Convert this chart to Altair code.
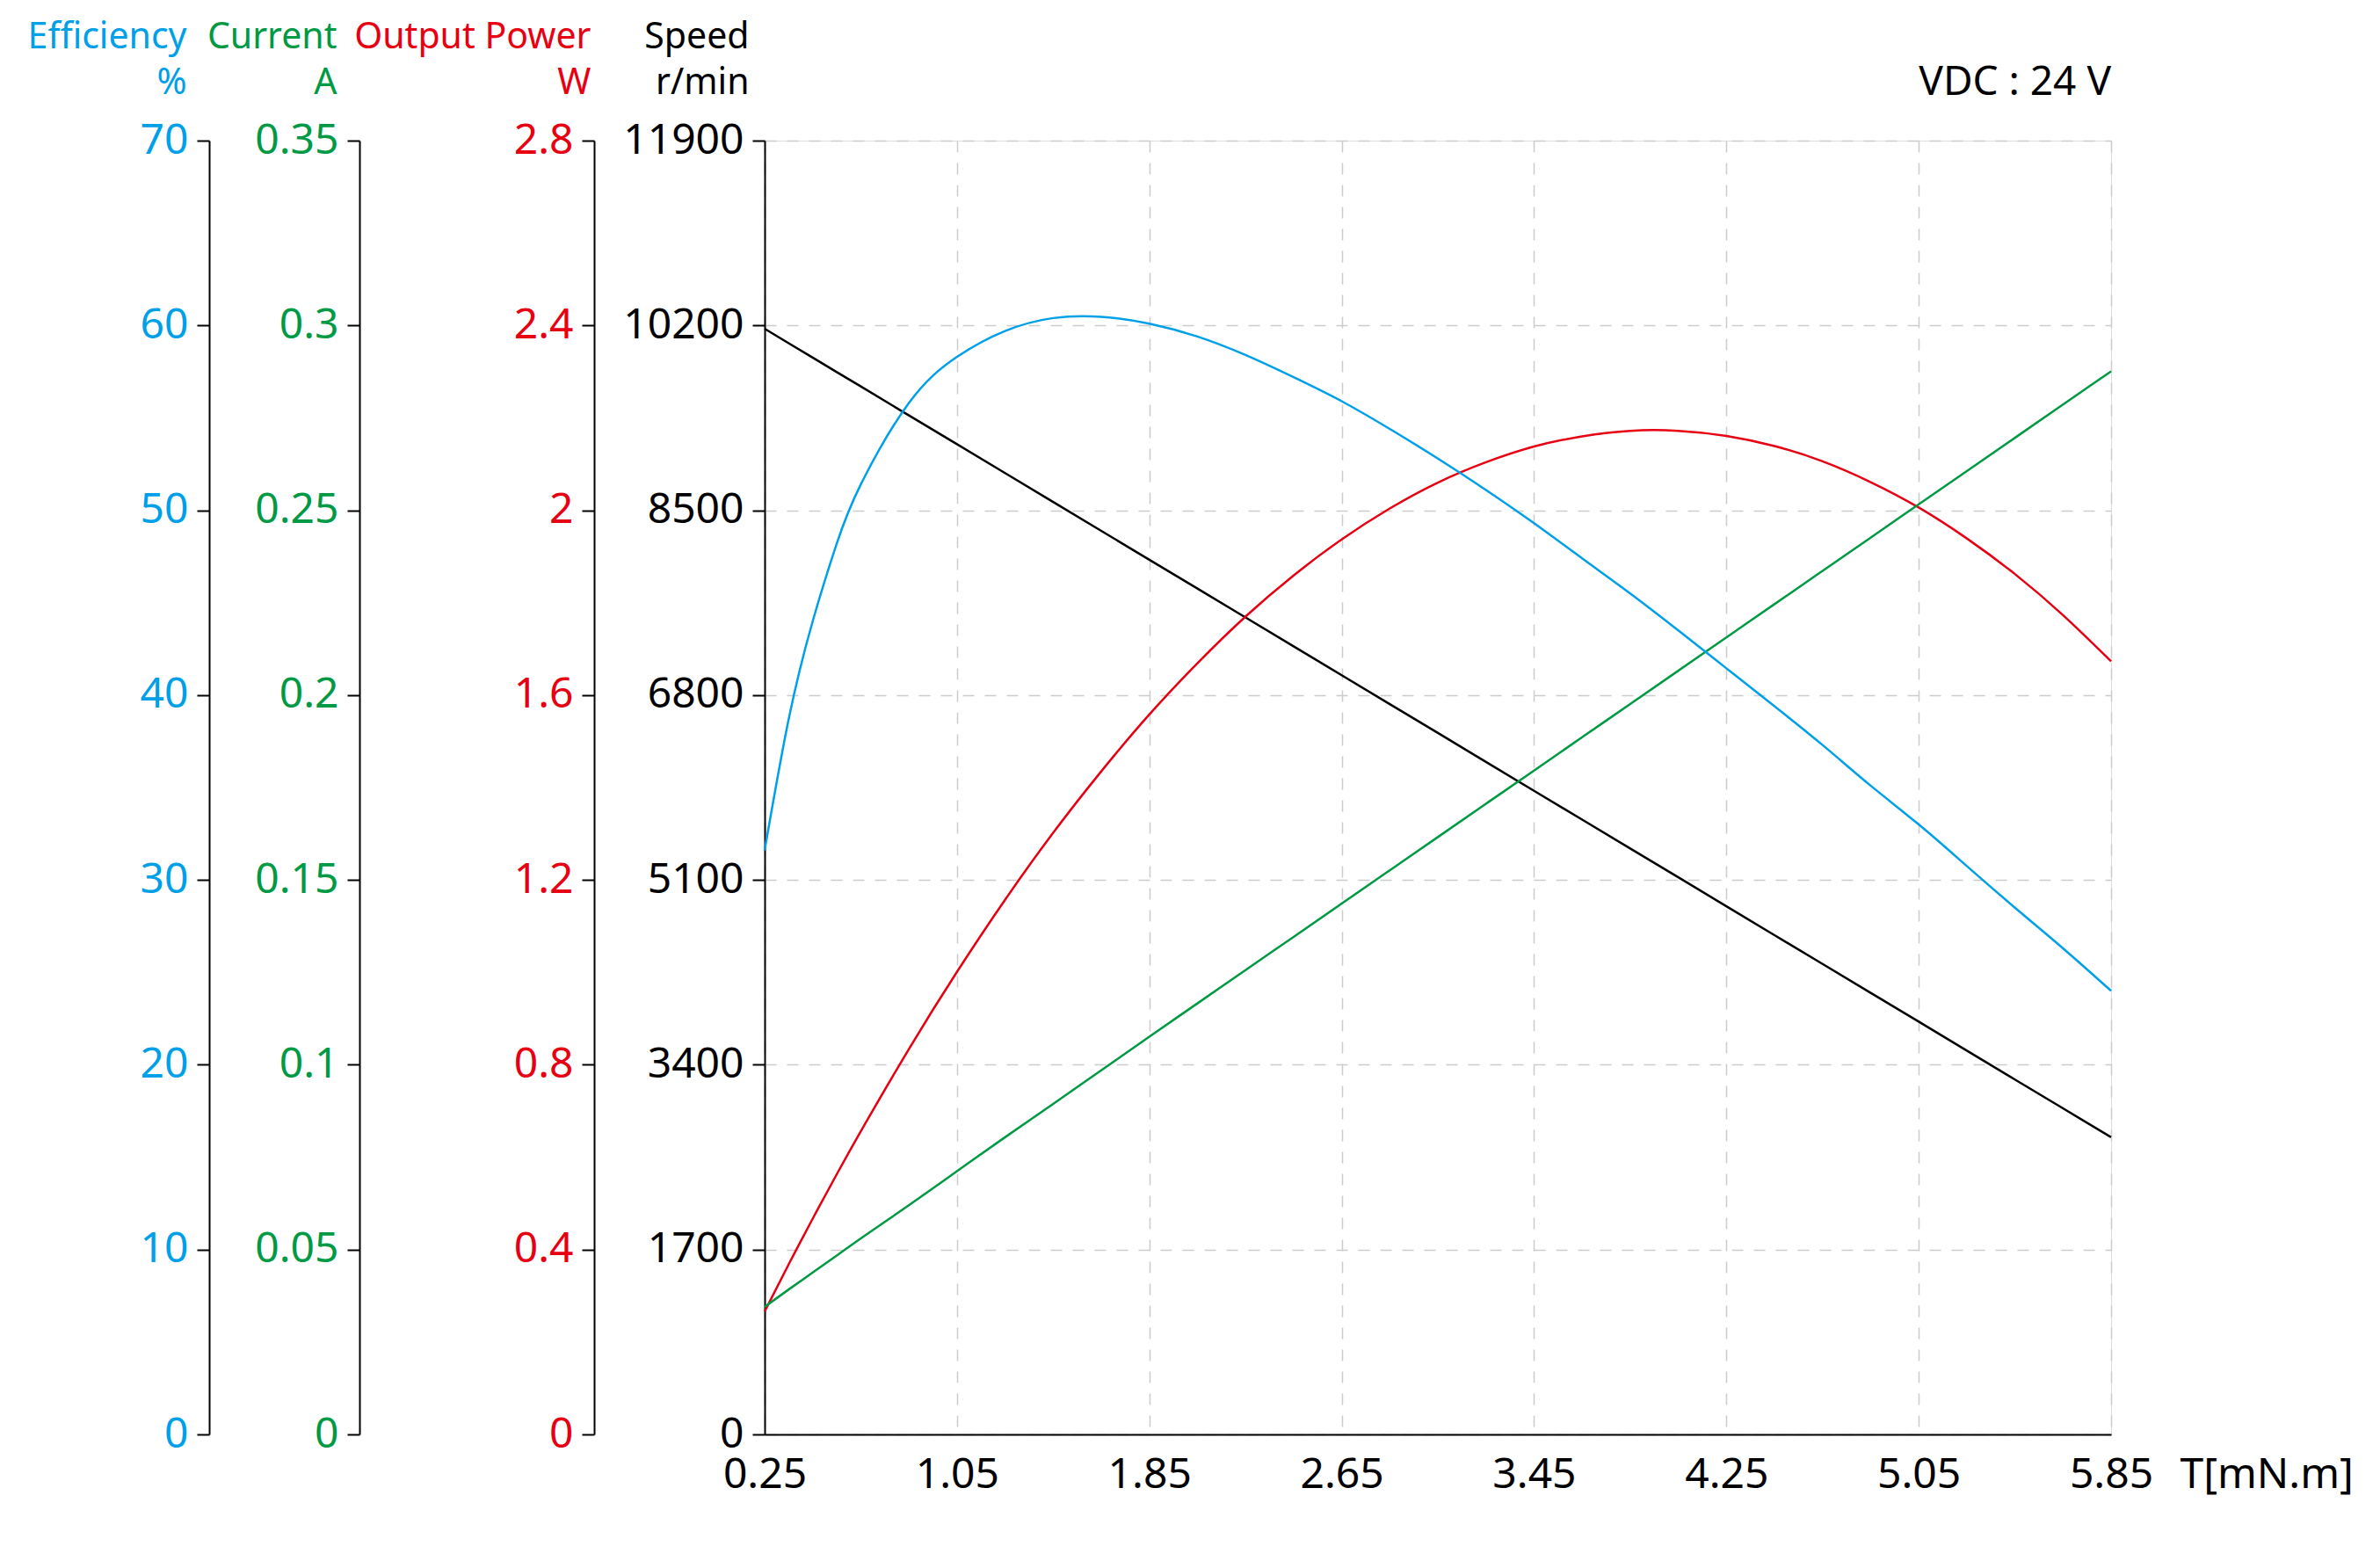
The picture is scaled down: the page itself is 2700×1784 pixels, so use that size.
import altair as alt
import pandas as pd

# ---- data ----
torque = [0.25, 0.35, 0.45, 0.55, 0.65, 0.85, 1.05, 1.25, 1.45, 1.65, 1.85, 2.05, 2.25, 2.45,
          2.65, 2.85, 3.05, 3.25, 3.45, 3.65, 3.85, 4.05, 4.25, 4.45, 4.65, 4.85, 5.05, 5.25,
          5.45, 5.65, 5.85]
speed = [10170, 10037, 9904, 9771, 9639, 9373, 9108, 8842, 8576, 8311, 8045, 7780, 7514, 7248,
         6983, 6717, 6452, 6186, 5920, 5655, 5389, 5124, 4858, 4592, 4327, 4061, 3796, 3530,
         3264, 2999, 2733]
current = [0.0345, 0.0392, 0.0438, 0.0484, 0.0530, 0.0620, 0.0712, 0.0804, 0.0894, 0.0985,
           0.1076, 0.1166, 0.1256, 0.1346, 0.1436, 0.1526, 0.1616, 0.1706, 0.1796, 0.1886,
           0.1976, 0.2066, 0.2156, 0.2246, 0.2336, 0.2426, 0.2516, 0.2606, 0.2696, 0.2786, 0.2876]
power = [0.266, 0.368, 0.467, 0.563, 0.656, 0.834, 1.001, 1.157, 1.302, 1.435, 1.558, 1.669,
         1.770, 1.859, 1.937, 2.004, 2.060, 2.104, 2.138, 2.160, 2.172, 2.172, 2.161, 2.139,
         2.106, 2.061, 2.006, 1.939, 1.862, 1.773, 1.673]
efficiency = [31.6, 38.7, 44.0, 48.2, 51.4, 55.8, 58.3, 59.7, 60.4, 60.47, 60.1, 59.4, 58.4,
              57.2, 55.9, 54.4, 52.8, 51.1, 49.3, 47.4, 45.5, 43.5, 41.45, 39.4, 37.3, 35.1,
              33.0, 30.75, 28.5, 26.3, 24.0]

x_ticks = [0.25, 1.05, 1.85, 2.65, 3.45, 4.25, 5.05, 5.85]
speed_ticks = [0, 1700, 3400, 5100, 6800, 8500, 10200, 11900]
eff_ticks = [0, 10, 20, 30, 40, 50, 60, 70]
cur_ticks = [0, 0.05, 0.1, 0.15, 0.2, 0.25, 0.3, 0.35]
pow_ticks = [0, 0.4, 0.8, 1.2, 1.6, 2, 2.4, 2.8]

note = ["VDC : 24 V"]

df = pd.DataFrame({"T": torque, "speed": speed, "current": current,
                   "power": power, "eff": efficiency})

FONT = "Noto Sans"
BLUE = "#00A0E9"
GREEN = "#009944"
RED = "#E60012"
BLACK = "#000000"
W, H = 1532, 1472
LABEL_FS = 48
TITLE_FS = 41
LW = 2.5

x_enc = alt.X(
    "T:Q",
    scale=alt.Scale(domain=[0.25, 5.85], nice=False, zero=False),
    axis=alt.Axis(
        values=x_ticks, format=".2f", grid=True, gridDash=[13, 12], gridColor="#cccccc",
        gridWidth=1.5, ticks=False, tickSize=0, labelFontSize=LABEL_FS, labelFont=FONT,
        labelColor=BLACK, labelPadding=22, labelFlush=False, labelOverlap=False,
        domainColor=BLACK, domainWidth=2,
        title="T[mN.m]", titleX=1610, titleY=22, titleAlign="left", titleBaseline="top",
        titleFontSize=LABEL_FS, titleFont=FONT, titleFontWeight="normal", titleColor=BLACK,
    ),
)


def yaxis(values, fmt, color, title, offset, title_x, grid=False):
    return alt.Axis(
        orient="left", offset=offset, values=values, format=fmt, grid=grid,
        gridDash=[13, 12], gridColor="#cccccc", gridWidth=1.5,
        tickSize=14, tickColor=BLACK, tickWidth=2, domainColor=BLACK, domainWidth=2,
        labelFontSize=LABEL_FS, labelFont=FONT, labelColor=color, labelPadding=10,
        labelFlush=False, labelOverlap=False,
        title=title, titleX=title_x, titleY=-106, titleAlign="right", titleAngle=0,
        titleBaseline="alphabetic", titleLineHeight=52, titleFontSize=TITLE_FS,
        titleFont=FONT, titleFontWeight="normal", titleColor=color,
    )


base = alt.Chart(df)

speed_line = base.mark_line(color=BLACK, strokeWidth=LW).encode(
    x=x_enc,
    y=alt.Y("speed:Q", scale=alt.Scale(domain=[0, 11900], nice=False, zero=True),
            axis=yaxis(speed_ticks, "d", BLACK, ["Speed", "r/min"], 0, -18, grid=True)),
)
power_line = base.mark_line(color=RED, strokeWidth=LW, interpolate="natural").encode(
    x=x_enc,
    y=alt.Y("power:Q", scale=alt.Scale(domain=[0, 2.8], nice=False, zero=True),
            axis=yaxis(pow_ticks, "~g", RED, ["Output Power", "W"], 194, -4)),
)
current_line = base.mark_line(color=GREEN, strokeWidth=LW, interpolate="monotone").encode(
    x=x_enc,
    y=alt.Y("current:Q", scale=alt.Scale(domain=[0, 0.35], nice=False, zero=True),
            axis=yaxis(cur_ticks, "~g", GREEN, ["Current", "A"], 461, -26)),
)
eff_line = base.mark_line(color=BLUE, strokeWidth=LW, interpolate="natural").encode(
    x=x_enc,
    y=alt.Y("eff:Q", scale=alt.Scale(domain=[0, 70], nice=False, zero=True),
            axis=yaxis(eff_ticks, "d", BLUE, ["Efficiency", "%"], 632, -26)),
)

note_text = alt.Chart(pd.DataFrame({"t": note})).mark_text(
    align="right", baseline="alphabetic", fontSize=46, font=FONT, color=BLACK
).encode(text="t:N", x=alt.value(W), y=alt.value(-52))

chart = (
    alt.layer(speed_line, power_line, current_line, eff_line, note_text)
    .resolve_scale(y="independent")
    .properties(
        width=W, height=H,
        autosize=alt.AutoSizeParams(type="none"),
        padding={"left": 862, "top": 152, "right": 280, "bottom": 140},
    )
    .configure_view(strokeWidth=0)
    .configure(background="white")
)

chart.save("out.html", embed_options={"renderer": "svg", "actions": False})
